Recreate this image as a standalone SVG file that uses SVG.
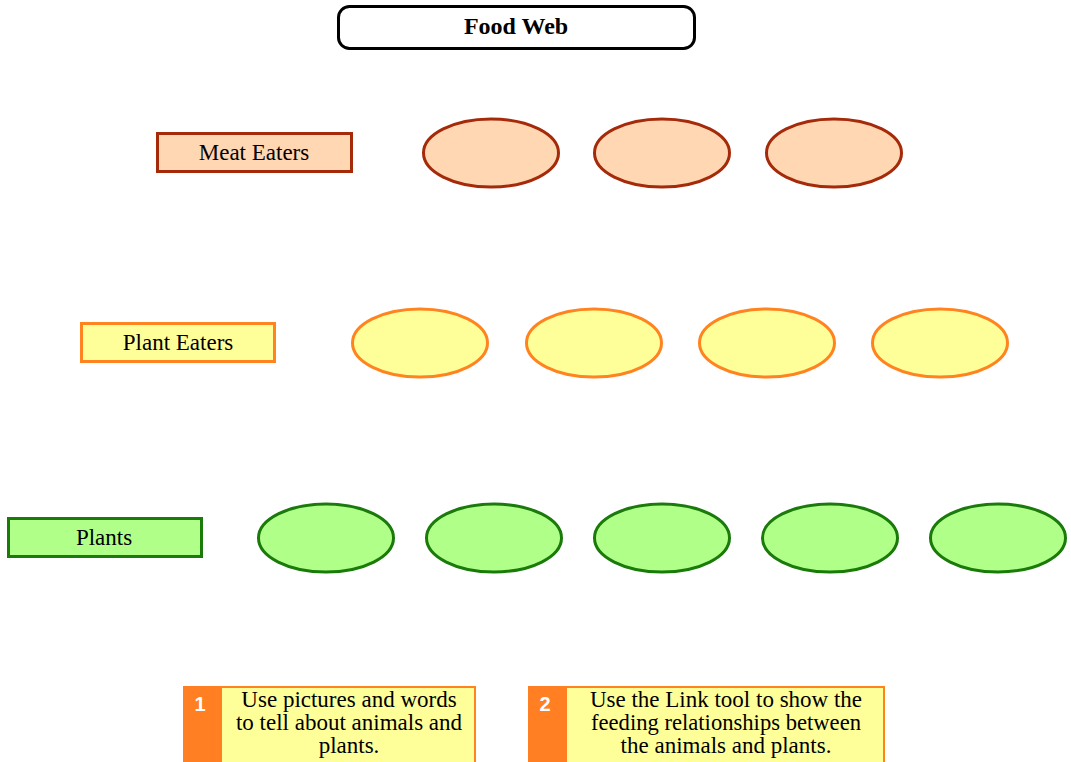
<svg xmlns="http://www.w3.org/2000/svg" width="1071" height="762" viewBox="0 0 1071 762">
<style>
text{font-family:"Liberation Serif","Times New Roman",serif;fill:#000;text-anchor:middle}
.lbl{font-size:23px}
.title{font-size:24px;font-weight:bold}
.meat{fill:#FFD7B2;stroke:#A52A0A;stroke-width:3}
.herb{fill:#FFFF99;stroke:#FF8420;stroke-width:3}
.plant{fill:#B0FF88;stroke:#1A7A0A;stroke-width:3}
.noteo{fill:#FF7F22}
.notey{fill:#FFFF99;stroke:#FF8420;stroke-width:2}
.num{font-family:"Liberation Sans",Arial,sans-serif;font-weight:bold;font-size:20px;fill:#fff}
</style>
<g id="title"><rect x="338.5" y="6.5" width="356" height="42" rx="11" fill="#fff" stroke="#000" stroke-width="3"/><text class="title" x="516" y="34">Food Web</text></g>
<g id="meat-label"><rect class="meat" x="157.5" y="133.5" width="194" height="38"/><text class="lbl" x="254" y="160">Meat Eaters</text></g>
<g id="meat-1"><ellipse class="meat" cx="491" cy="153" rx="67.5" ry="34"/></g>
<g id="meat-2"><ellipse class="meat" cx="662" cy="153" rx="67.5" ry="34"/></g>
<g id="meat-3"><ellipse class="meat" cx="834" cy="153" rx="67.5" ry="34"/></g>
<g id="herb-label"><rect class="herb" x="81.5" y="323.5" width="193" height="38"/><text class="lbl" x="178" y="350">Plant Eaters</text></g>
<g id="herb-1"><ellipse class="herb" cx="420" cy="343" rx="67.5" ry="34"/></g>
<g id="herb-2"><ellipse class="herb" cx="594" cy="343" rx="67.5" ry="34"/></g>
<g id="herb-3"><ellipse class="herb" cx="767" cy="343" rx="67.5" ry="34"/></g>
<g id="herb-4"><ellipse class="herb" cx="940" cy="343" rx="67.5" ry="34"/></g>
<g id="plant-label"><rect class="plant" x="8.5" y="518.5" width="193" height="38"/><text class="lbl" x="104" y="545">Plants</text></g>
<g id="plant-1"><ellipse class="plant" cx="326" cy="538" rx="67.5" ry="34"/></g>
<g id="plant-2"><ellipse class="plant" cx="494" cy="538" rx="67.5" ry="34"/></g>
<g id="plant-3"><ellipse class="plant" cx="662" cy="538" rx="67.5" ry="34"/></g>
<g id="plant-4"><ellipse class="plant" cx="830" cy="538" rx="67.5" ry="34"/></g>
<g id="plant-5"><ellipse class="plant" cx="998" cy="538" rx="67.5" ry="34"/></g>
<g id="connectors"></g>
<g id="note-1">
<rect class="notey" x="184" y="687" width="291" height="76"/>
<rect class="noteo" x="183" y="686" width="39" height="77"/>
<text class="num" x="200" y="711">1</text>
<text class="lbl" x="349" y="707">Use pictures and words</text>
<text class="lbl" x="349" y="730">to tell about animals and</text>
<text class="lbl" x="349" y="753">plants.</text>
</g>
<g id="note-2">
<rect class="notey" x="529" y="687" width="355" height="76"/>
<rect class="noteo" x="528" y="686" width="39" height="77"/>
<text class="num" x="545" y="711">2</text>
<text class="lbl" x="726" y="707">Use the Link tool to show the</text>
<text class="lbl" x="726" y="730" textLength="270" lengthAdjust="spacingAndGlyphs">feeding relationships between</text>
<text class="lbl" x="726" y="753">the animals and plants.</text>
</g>
</svg>
